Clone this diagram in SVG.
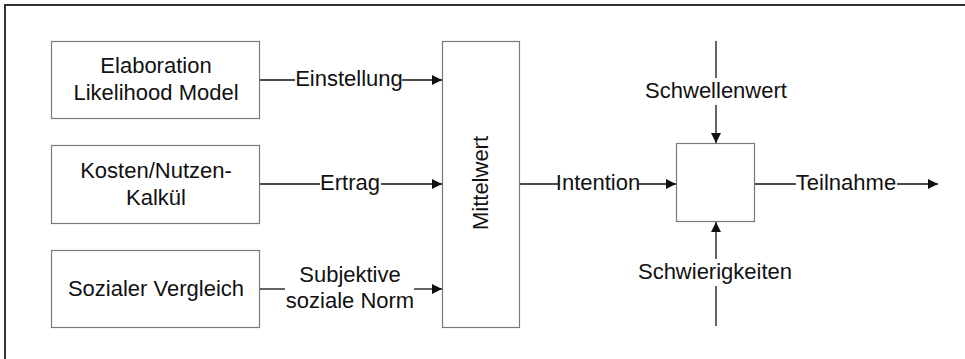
<svg xmlns="http://www.w3.org/2000/svg" width="965" height="359" viewBox="0 0 965 359">
<defs>
<style>
.box{fill:#fff;stroke:#7a7a7a;stroke-width:1.2}
.ln{stroke:#111;stroke-width:1.3;fill:none}
.t{font-family:"Liberation Sans",Arial,sans-serif;font-size:22px;fill:#111;text-anchor:middle}
.frame{stroke:#333;stroke-width:2;fill:none}
</style>
<marker id="ah" viewBox="0 0 10 10" refX="10" refY="5" markerWidth="10" markerHeight="10" markerUnits="userSpaceOnUse" orient="auto">
<path d="M0,0 L10,5 L0,10 Z" fill="#111"/>
</marker>
</defs>
<rect width="965" height="359" fill="#fff"/>
<path class="frame" d="M5,359 V5 H965"/>

<g id="elm">
<rect class="box" x="51.5" y="41.5" width="208" height="77"/>
<text class="t" x="156" y="73">Elaboration</text>
<text class="t" x="156" y="100">Likelihood Model</text>
</g>
<g id="kosten">
<rect class="box" x="51.5" y="145.5" width="208" height="78"/>
<text class="t" x="156" y="178">Kosten/Nutzen-</text>
<text class="t" x="156" y="205">Kalkül</text>
</g>
<g id="sozial">
<rect class="box" x="51.5" y="250.5" width="208" height="77"/>
<text class="t" x="156" y="296">Sozialer Vergleich</text>
</g>
<g id="mittelwert">
<rect class="box" x="442.5" y="41.5" width="77" height="286"/>
<text class="t" transform="translate(488,183) rotate(-90)" x="0" y="0">Mittelwert</text>
</g>
<g id="entscheidung">
<rect class="box" x="676.5" y="143.5" width="78" height="78"/>
</g>

<g id="connectors">
<line class="ln" x1="260" y1="80" x2="295" y2="80"/>
<line class="ln" x1="402" y1="80" x2="442" y2="80" marker-end="url(#ah)"/>
<line class="ln" x1="260" y1="184" x2="320" y2="184"/>
<line class="ln" x1="381" y1="184" x2="442" y2="184" marker-end="url(#ah)"/>
<line class="ln" x1="260" y1="289" x2="285" y2="289"/>
<line class="ln" x1="414" y1="289" x2="442" y2="289" marker-end="url(#ah)"/>
<line class="ln" x1="520" y1="184" x2="558" y2="184"/>
<line class="ln" x1="639" y1="184" x2="676" y2="184" marker-end="url(#ah)"/>
<line class="ln" x1="755" y1="184" x2="796" y2="184"/>
<line class="ln" x1="897" y1="184" x2="938" y2="184" marker-end="url(#ah)"/>
<line class="ln" x1="716" y1="41" x2="716" y2="78"/>
<line class="ln" x1="716" y1="105" x2="716" y2="143" marker-end="url(#ah)"/>
<line class="ln" x1="716" y1="326" x2="716" y2="286"/>
<line class="ln" x1="716" y1="259" x2="716" y2="222" marker-end="url(#ah)"/>
</g>
<g id="labels">
<text class="t" x="349" y="86">Einstellung</text>
<text class="t" x="350" y="190">Ertrag</text>
<text class="t" x="350" y="282">Subjektive</text>
<text class="t" x="350" y="308">soziale Norm</text>
<text class="t" x="598" y="190">Intention</text>
<text class="t" x="846" y="190">Teilnahme</text>
<text class="t" x="716" y="98">Schwellenwert</text>
<text class="t" x="715" y="279">Schwierigkeiten</text>
</g>
</svg>
